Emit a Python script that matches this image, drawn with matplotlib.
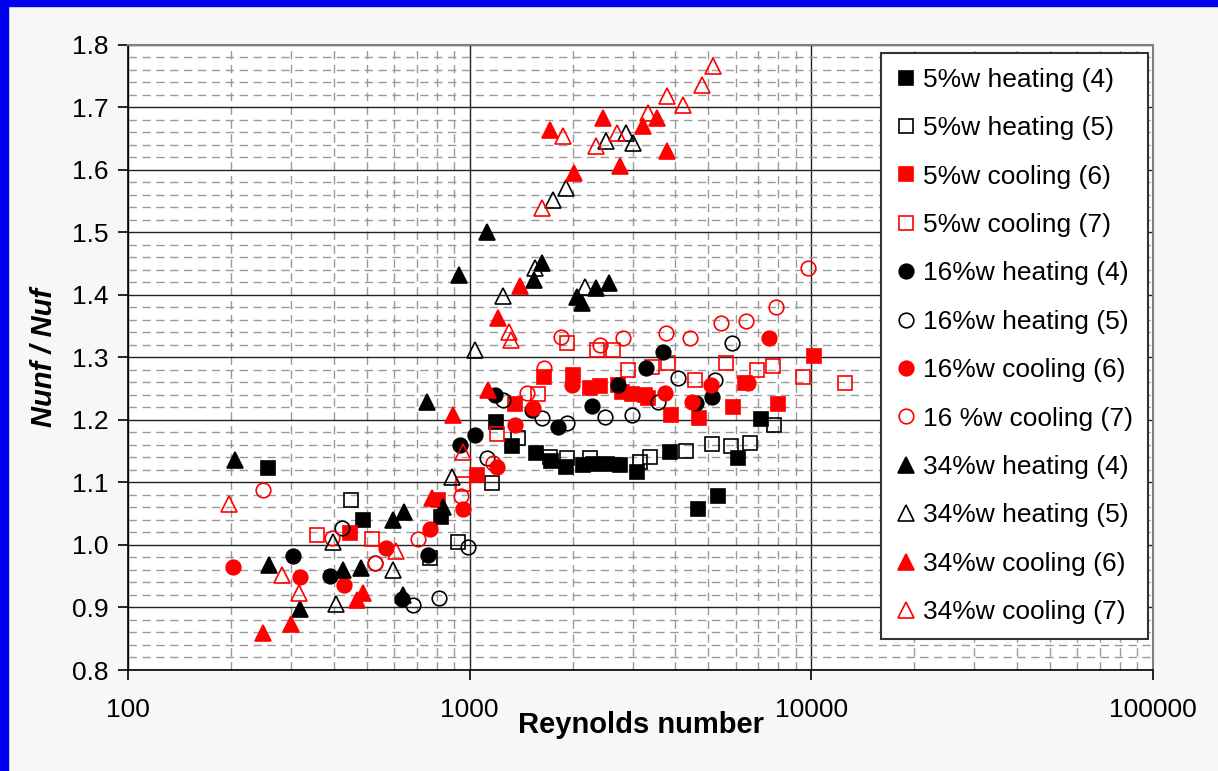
import matplotlib
matplotlib.use("Agg")
import matplotlib.pyplot as plt
from matplotlib.patches import Rectangle
from matplotlib.ticker import LogLocator, MultipleLocator, FixedLocator, FixedFormatter

plt.rcParams['font.family'] = ['Liberation Sans', 'DejaVu Sans']

# --- data (Reynolds number, Nunf/Nuf) ---
re_5h4 = [257, 488, 825, 1196, 1332, 1566, 1733, 1917, 2149, 2299, 2527, 2759, 3094, 3865, 4668, 5343, 6111, 7138]
nu_5h4 = [1.123, 1.040, 1.045, 1.197, 1.158, 1.147, 1.134, 1.125, 1.128, 1.130, 1.130, 1.128, 1.117, 1.149, 1.058, 1.078, 1.139, 1.202]

re_5h5 = [450, 766, 925, 1164, 1387, 1721, 1930, 2253, 3157, 3378, 4305, 5130, 5833, 6628, 7793]
nu_5h5 = [1.072, 0.979, 1.005, 1.099, 1.171, 1.141, 1.139, 1.139, 1.133, 1.141, 1.150, 1.162, 1.158, 1.163, 1.192]

re_5c6 = [447, 809, 1052, 1359, 1652, 2010, 2253, 2410, 2722, 2796, 2991, 3265, 3332, 3891, 4699, 5910, 6408, 8006, 10204]
nu_5c6 = [1.019, 1.072, 1.112, 1.226, 1.269, 1.272, 1.251, 1.254, 1.256, 1.245, 1.242, 1.240, 1.235, 1.208, 1.203, 1.221, 1.259, 1.226, 1.302]

re_5c7 = [358, 518, 957, 1204, 1587, 1930, 2362, 2632, 2912, 3424, 3813, 4575, 5637, 6949, 7740, 9476, 12581]
nu_5c7 = [1.016, 1.010, 1.098, 1.178, 1.242, 1.323, 1.312, 1.312, 1.280, 1.285, 1.291, 1.264, 1.291, 1.280, 1.286, 1.269, 1.259]

re_16h4 = [304, 390, 634, 756, 938, 1038, 1188, 1524, 1816, 2284, 2722, 3288, 3687, 4605, 5130]
nu_16h4 = [0.982, 0.950, 0.914, 0.984, 1.160, 1.176, 1.240, 1.216, 1.189, 1.222, 1.256, 1.283, 1.309, 1.227, 1.237]

re_16h5 = [424, 530, 683, 814, 990, 1125, 1254, 1631, 1930, 2494, 2991, 3565, 4077, 5234, 5871]
nu_16h5 = [1.027, 0.971, 0.904, 0.915, 0.997, 1.139, 1.232, 1.203, 1.195, 1.205, 1.208, 1.229, 1.267, 1.264, 1.323]

re_16c6 = [203, 319, 429, 570, 766, 957, 1204, 1359, 1535, 1996, 3737, 4482, 5096, 6540, 7534]
nu_16c6 = [0.965, 0.949, 0.936, 0.995, 1.026, 1.058, 1.125, 1.192, 1.219, 1.256, 1.243, 1.229, 1.256, 1.259, 1.330]

re_16c7 = [248, 396, 530, 707, 945, 1172, 1474, 1652, 1853, 2410, 2815, 3763, 4423, 5451, 6453, 7898, 9799]
nu_16c7 = [1.088, 1.011, 0.971, 1.010, 1.078, 1.131, 1.243, 1.283, 1.333, 1.320, 1.330, 1.338, 1.330, 1.355, 1.358, 1.381, 1.442]

re_34h4 = [206, 259, 319, 426, 482, 597, 643, 640, 751, 836, 932, 1125, 1545, 1631, 2064, 2135, 2347, 2561]
nu_34h4 = [1.136, 0.968, 0.898, 0.960, 0.963, 1.040, 1.053, 0.920, 1.229, 1.061, 1.432, 1.501, 1.424, 1.451, 1.397, 1.387, 1.410, 1.418]

re_34h5 = [398, 407, 597, 889, 1038, 1254, 1556, 1756, 1917, 2179, 2510, 2873, 3012]
nu_34h5 = [1.005, 0.905, 0.960, 1.109, 1.312, 1.398, 1.442, 1.552, 1.570, 1.413, 1.645, 1.659, 1.643]

re_34c6 = [248, 300, 468, 488, 777, 895, 1133, 1212, 1406, 1721, 2023, 2460, 2759, 3222, 3540, 3788]
nu_34c6 = [0.859, 0.874, 0.912, 0.923, 1.075, 1.208, 1.248, 1.362, 1.414, 1.664, 1.595, 1.682, 1.606, 1.669, 1.683, 1.629]

re_34c7 = [197, 282, 317, 609, 957, 1305, 1323, 1631, 1878, 2347, 2704, 3332, 3788, 4220, 4796, 5164]
nu_34c7 = [1.066, 0.952, 0.923, 0.990, 1.149, 1.341, 1.328, 1.539, 1.654, 1.637, 1.659, 1.690, 1.718, 1.704, 1.736, 1.766]

x_ticks = [100, 1000, 10000, 100000]
x_tick_labels = ['100', '1000', '10000', '100000']

# (label, re, nu, marker, colour, filled)
series = [
    ("5%w heating (4)", re_5h4, nu_5h4, 's', 'black', True),
    ("5%w heating (5)", re_5h5, nu_5h5, 's', 'black', False),
    ("5%w cooling (6)", re_5c6, nu_5c6, 's', 'red', True),
    ("5%w cooling (7)", re_5c7, nu_5c7, 's', 'red', False),
    ("16%w heating (4)", re_16h4, nu_16h4, 'o', 'black', True),
    ("16%w heating (5)", re_16h5, nu_16h5, 'o', 'black', False),
    ("16%w cooling (6)", re_16c6, nu_16c6, 'o', 'red', True),
    ("16 %w cooling (7)", re_16c7, nu_16c7, 'o', 'red', False),
    ("34%w heating (4)", re_34h4, nu_34h4, '^', 'black', True),
    ("34%w heating (5)", re_34h5, nu_34h5, '^', 'black', False),
    ("34%w cooling (6)", re_34c6, nu_34c6, '^', 'red', True),
    ("34%w cooling (7)", re_34c7, nu_34c7, '^', 'red', False),
]

W, H = 1218, 771
fig = plt.figure(figsize=(W / 100, H / 100), dpi=100, facecolor='#F7F7F7')
ax = fig.add_axes([128 / W, 1 - 670 / H, 1025 / W, 625.5 / H])
ax.set_facecolor('white')

# blue slide frame
fig.add_artist(Rectangle((0, 1 - 6 / H), 1, 6 / H, transform=fig.transFigure, color='#0000EE', zorder=10))
fig.add_artist(Rectangle((0, 0), 8 / W, 1, transform=fig.transFigure, color='#0000EE', zorder=10))

for label, xs, ys, mk, col, filled in series:
    ms = 11.5 if mk == '^' else 10.5
    ax.plot(xs, ys, linestyle='none', marker=mk, markersize=ms,
            markerfacecolor=col if filled else 'none', markeredgecolor=col,
            markeredgewidth=1.2, label=label, zorder=3)

ax.set_xscale('log')
ax.set_xlim(100, 100000)
ax.set_ylim(0.8, 1.8)

ax.xaxis.set_major_locator(FixedLocator(x_ticks))
ax.xaxis.set_major_formatter(FixedFormatter(x_tick_labels))
ax.xaxis.set_minor_locator(LogLocator(base=10, subs=range(2, 10)))
ax.yaxis.set_major_locator(MultipleLocator(0.1))
ax.yaxis.set_minor_locator(MultipleLocator(0.02))
ax.yaxis.set_major_formatter(plt.FuncFormatter(lambda v, p: f"{v:.1f}"))

ax.grid(which='major', color='#222222', linewidth=1.0, zorder=1)
ax.grid(which='minor', color='#999999', linewidth=1.0, linestyle=(0, (6, 4)), zorder=1)
ax.set_axisbelow(True)

ax.tick_params(which='major', labelsize=19, length=7, width=1.2, color='black')
ax.tick_params(axis='x', which='major', pad=13)
ax.tick_params(axis='y', which='major', pad=7)
ax.tick_params(which='minor', length=0)

for side in ('top', 'right'):
    ax.spines[side].set_color('#808080')
    ax.spines[side].set_linewidth(1.5)
for side in ('left', 'bottom'):
    ax.spines[side].set_color('black')
    ax.spines[side].set_linewidth(1.2)

ax.set_xlabel('Reynolds number', fontsize=21, fontweight='bold')
ax.xaxis.set_label_coords(0.5, -0.066)
ax.set_ylabel('Nunf / Nuf', fontsize=21, fontweight='bold', style='italic')
ax.yaxis.set_label_coords(-0.068, 0.5)

leg = ax.legend(loc='upper right', bbox_to_anchor=(0.995, 0.986), fontsize=19,
                frameon=True, fancybox=False, framealpha=1, edgecolor='#333333',
                markerscale=1.0, handlelength=0.75, handletextpad=0.3,
                labelspacing=0.925, borderpad=0.55, borderaxespad=0)
leg.get_frame().set_linewidth(1.5)
leg.set_zorder(5)

fig.savefig('out.png', dpi=100, facecolor=fig.get_facecolor())
